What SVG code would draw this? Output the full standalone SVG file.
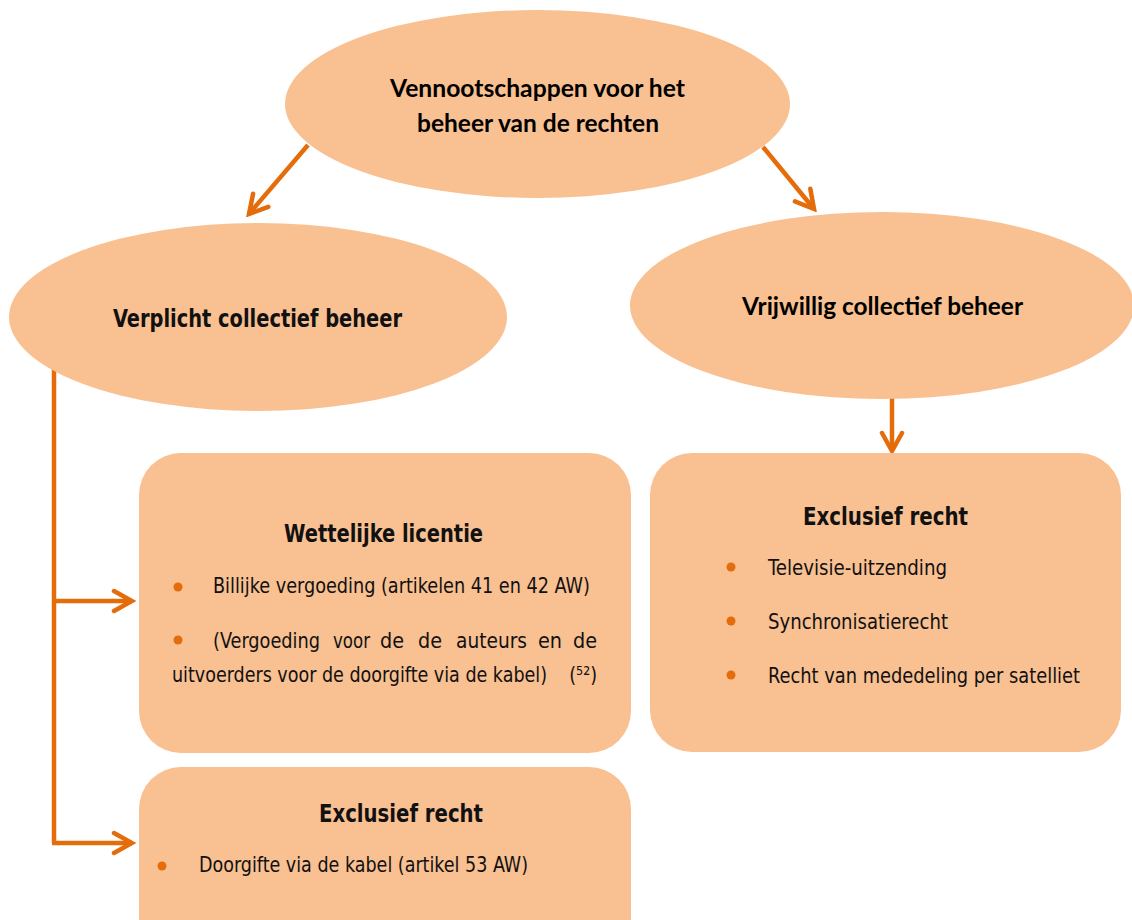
<svg xmlns="http://www.w3.org/2000/svg" width="1132" height="920" viewBox="0 0 1132 920">
<style>
.shape{fill:#F9C091;stroke:none}
.conn{fill:none;stroke:#E46C0A;stroke-width:4.5;stroke-linecap:butt}
.head{fill:none;stroke:#E46C0A;stroke-width:4.5;stroke-linejoin:miter;stroke-linecap:round}
.cal{font-family:Lato,"Open Sans","DejaVu Sans",sans-serif;font-weight:700;font-size:24px;fill:#000}
.din{font-family:"Liberation Sans Narrow","DejaVu Sans Condensed",Roboto,sans-serif;fill:#111}
.title{font-size:25px;font-weight:700}
.body{font-size:22px;font-weight:400}
.dot{fill:#E46C0A}
</style>
<defs>
<marker id="chev" markerUnits="userSpaceOnUse" viewBox="-24 -14 28 28" refX="0" refY="0" markerWidth="28" markerHeight="28" orient="auto">
<path class="head" d="M-18,-10 L0,0 L-18,10"/>
</marker>
</defs>
<rect width="1132" height="920" fill="#fff"/>
<g id="connectors">
<line class="conn" x1="308" y1="145" x2="249" y2="214" marker-end="url(#chev)"/>
<line class="conn" x1="763" y1="147" x2="814" y2="209" marker-end="url(#chev)"/>
<line class="conn" x1="892" y1="398" x2="892" y2="451" marker-end="url(#chev)"/>
<path class="conn" d="M54,368 L54,843"/>
<line class="conn" x1="52" y1="601" x2="132" y2="601" marker-end="url(#chev)"/>
<line class="conn" x1="52" y1="843" x2="132" y2="843" marker-end="url(#chev)"/>
</g>
<g id="node-root">
<ellipse class="shape" cx="537.5" cy="104" rx="252.5" ry="94"/>
<text class="cal" x="537.5" y="97" text-anchor="middle" textLength="295" lengthAdjust="spacingAndGlyphs">Vennootschappen voor het</text>
<text class="cal" x="538" y="132" text-anchor="middle" textLength="242" lengthAdjust="spacingAndGlyphs">beheer van de rechten</text>
</g>
<g id="node-verplicht">
<ellipse class="shape" cx="258" cy="317" rx="249" ry="94"/>
<text class="din title" x="113" y="327" textLength="289" lengthAdjust="spacingAndGlyphs">Verplicht collectief beheer</text>
</g>
<g id="node-vrijwillig">
<ellipse class="shape" cx="882" cy="305.5" rx="252" ry="93.5"/>
<text class="cal" x="742" y="315" textLength="281" lengthAdjust="spacingAndGlyphs">Vrijwillig collectief beheer</text>
</g>
<g id="node-wettelijke">
<rect class="shape" x="139" y="453" width="492" height="300" rx="42" ry="42"/>
<text class="din title" x="284" y="542" textLength="199" lengthAdjust="spacingAndGlyphs">Wettelijke licentie</text>
<circle class="dot" cx="178" cy="587" r="4.5"/>
<text class="din body" x="213" y="593" textLength="377" lengthAdjust="spacingAndGlyphs">Billijke vergoeding (artikelen 41 en 42 AW)</text>
<circle class="dot" cx="178" cy="640" r="4.5"/>
<text class="din body" x="213" y="648" textLength="107" lengthAdjust="spacingAndGlyphs">(Vergoeding</text>
<text class="din body" x="333" y="648" textLength="37" lengthAdjust="spacingAndGlyphs">voor</text>
<text class="din body" x="380" y="648" textLength="24" lengthAdjust="spacingAndGlyphs">de</text>
<text class="din body" x="418" y="648" textLength="24" lengthAdjust="spacingAndGlyphs">de</text>
<text class="din body" x="456" y="648" textLength="71" lengthAdjust="spacingAndGlyphs">auteurs</text>
<text class="din body" x="538" y="648" textLength="24" lengthAdjust="spacingAndGlyphs">en</text>
<text class="din body" x="573" y="648" textLength="24" lengthAdjust="spacingAndGlyphs">de</text>
<text class="din body" x="172" y="682" textLength="425" lengthAdjust="spacingAndGlyphs">uitvoerders voor de doorgifte via de kabel)&#160;&#160;&#160;&#160;(⁵²)</text>
</g>
<g id="node-exclusief-links">
<rect class="shape" x="139" y="767" width="492" height="200" rx="42" ry="42"/>
<text class="din title" x="319" y="822" textLength="164" lengthAdjust="spacingAndGlyphs">Exclusief recht</text>
<circle class="dot" cx="162" cy="866" r="4.5"/>
<text class="din body" x="199" y="872" textLength="329" lengthAdjust="spacingAndGlyphs">Doorgifte via de kabel (artikel 53 AW)</text>
</g>
<g id="node-exclusief-rechts">
<rect class="shape" x="650" y="453" width="471" height="299" rx="42" ry="42"/>
<text class="din title" x="803" y="525" textLength="165" lengthAdjust="spacingAndGlyphs">Exclusief recht</text>
<circle class="dot" cx="731" cy="567" r="4.5"/>
<text class="din body" x="768" y="575" textLength="179" lengthAdjust="spacingAndGlyphs">Televisie-uitzending</text>
<circle class="dot" cx="731" cy="621" r="4.5"/>
<text class="din body" x="768" y="629" textLength="180" lengthAdjust="spacingAndGlyphs">Synchronisatierecht</text>
<circle class="dot" cx="731" cy="675" r="4.5"/>
<text class="din body" x="768" y="683" textLength="312" lengthAdjust="spacingAndGlyphs">Recht van mededeling per satelliet</text>
</g>
</svg>
